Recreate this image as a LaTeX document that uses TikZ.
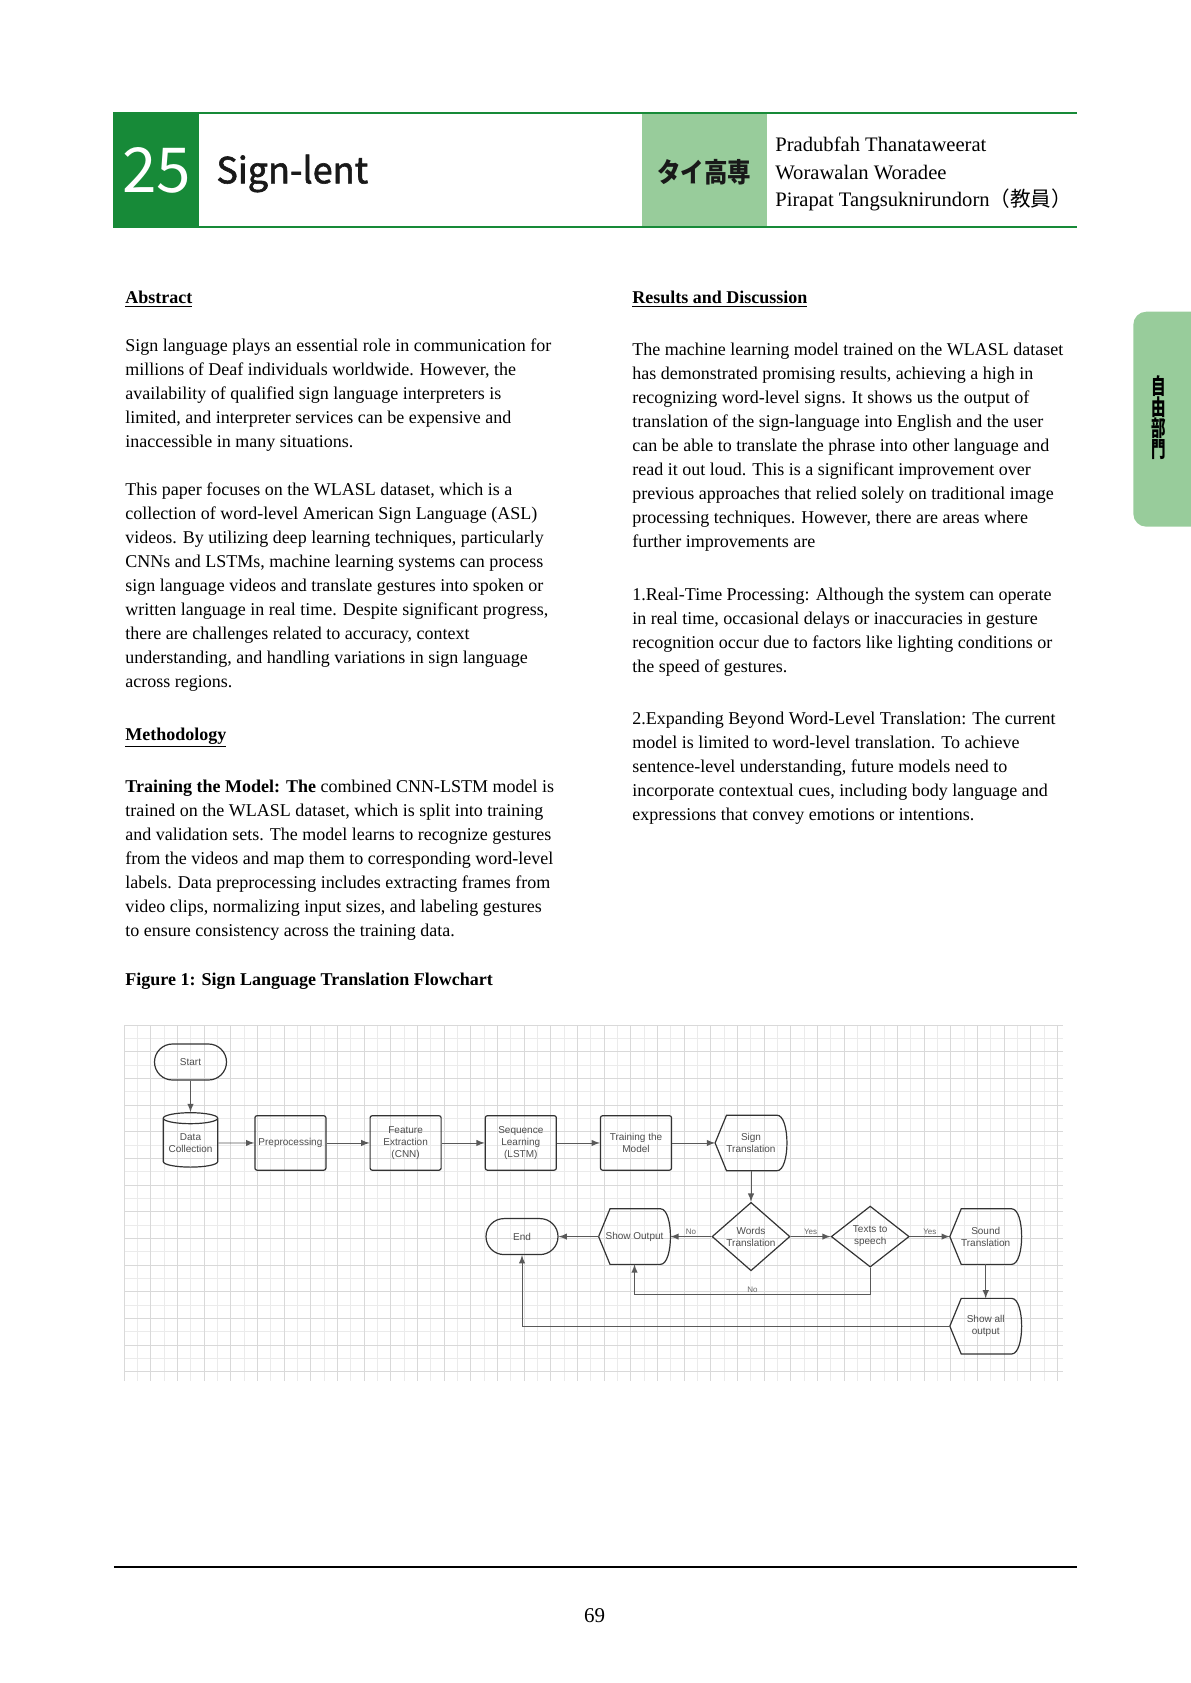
\documentclass[tikz,border=0pt]{standalone}
\usepackage{fontspec}
\setmainfont{Liberation Serif}
\newfontfamily\jpfont{Noto Sans CJK JP}
\newfontfamily\jpmedium[FakeBold=1.6]{Noto Sans CJK JP}
\newfontfamily\chartfont{Liberation Sans}
\usetikzlibrary{shapes.geometric, positioning, arrows}
\definecolor{kgreen}{HTML}{178A38}
\definecolor{lgreen}{HTML}{98CC9B}

\begin{document}
\begin{tikzpicture}[
  x=0.5pt, y=-0.5pt,
  node distance=15.5pt and 21.5pt,
  body/.style={anchor=base west, inner sep=0, font=\fontsize{9}{12}\selectfont},
  head/.style={anchor=base west, inner sep=0, font=\fontsize{9}{12}\selectfont\bfseries},
  box/.style={draw=black!80, line width=0.6pt, inner sep=0, align=center, text=black!70, font=\chartfont\fontsize{5}{6}\selectfont},
  term/.style={box, minimum width=36pt, minimum height=18pt, rounded corners=9pt},
  proc/.style={box, minimum width=35.5pt, minimum height=27.2pt, rounded corners=1pt},
  store/.style={box, cylinder, shape border rotate=90, aspect=0.25, minimum width=27.2pt, minimum height=27.2pt},
  disp/.style={box, draw=none, minimum width=35.3pt, minimum height=27.2pt},
  dec/.style={box, diamond, minimum width=39pt, minimum height=30.5pt},
  outline/.style={draw=black!80, line width=0.6pt},
  conn/.style={draw=black!65, line width=0.45pt, -latex},
  lab/.style={text=black!60, font=\chartfont\fontsize{4}{4.5}\selectfont, inner sep=1pt},
  gridfine/.style={draw=black!8, line width=0.4pt},
  gridmajor/.style={draw=black!15, line width=0.4pt}
]
\useasboundingbox (0,0) rectangle (1190,1683);

% header band
\fill[kgreen] (113.3,113.3) rectangle (199.3,226.7);
\fill[lgreen] (641.7,113.3) rectangle (766.7,226.7);
\draw[kgreen, line width=0.85pt] (113.3,113.3) -- (1076.5,113.3);
\draw[kgreen, line width=0.85pt] (113.3,226.7) -- (1076.5,226.7);
\node[anchor=base, inner sep=0, text=white, font=\jpfont\fontsize{31}{31}\selectfont] (num) at (156.7,192.3) {25};
\node[anchor=base west, inner sep=0, text=black!90, font=\jpmedium\fontsize{18}{18}\selectfont] (title) at (216,183.3) {Sign-lent};
\node[anchor=base, inner sep=0, text=black!90, font=\jpfont\bfseries\fontsize{13.5}{14}\selectfont] (school) at (704.2,182.5) {\scalebox{0.87}[1]{タイ高専}};
\foreach \a [count=\i] in {{Pradubfah Thanataweerat}, {Worawalan Woradee}, {Pirapat Tangsuknirundorn{\jpfont （教員）}}}
  \node[anchor=base west, inner sep=0, font=\fontsize{10.3}{12}\selectfont] (au\i) at (775,124+27.5*\i) {\a};

% side tab
\fill[lgreen, rounded corners=6.5pt] (1133.3,311.7) rectangle (1215,526.7);
\foreach \c [count=\i] in {自,由,部,門}
  \node[inner sep=0, font=\jpfont\bfseries\fontsize{11}{11}\selectfont] (tab\i) at (1158.7,364.4+21.25*\i) {\scalebox{0.66}[1]{\c}};

% left column
\node[head] (abs) at (125,303) {\underline{Abstract}};
\foreach \t [count=\i] in {
  {Sign language plays an essential role in communication for},
  {millions of Deaf individuals worldwide. However, the},
  {availability of qualified sign language interpreters is},
  {limited, and interpreter services can be expensive and},
  {inaccessible in many situations.}}
  \node[body] (pa\i) at (125,327+24*\i) {\t};
\foreach \t [count=\i] in {
  {This paper focuses on the WLASL dataset, which is a},
  {collection of word-level American Sign Language (ASL)},
  {videos. By utilizing deep learning techniques, particularly},
  {CNNs and LSTMs, machine learning systems can process},
  {sign language videos and translate gestures into spoken or},
  {written language in real time. Despite significant progress,},
  {there are challenges related to accuracy, context},
  {understanding, and handling variations in sign language},
  {across regions.}}
  \node[body] (pb\i) at (125,471+24*\i) {\t};
\node[head] (meth) at (125,740) {\underline{Methodology}};
\foreach \t [count=\i] in {
  {\textbf{Training the Model: The} combined CNN-LSTM model is},
  {trained on the WLASL dataset, which is split into training},
  {and validation sets. The model learns to recognize gestures},
  {from the videos and map them to corresponding word-level},
  {labels. Data preprocessing includes extracting frames from},
  {video clips, normalizing input sizes, and labeling gestures},
  {to ensure consistency across the training data.}}
  \node[body] (pc\i) at (125,768.5+24*\i) {\t};
\node[head] (cap) at (125,985) {Figure 1: Sign Language Translation Flowchart};

% right column
\node[head] (res) at (632,303) {\underline{Results and Discussion}};
\foreach \t [count=\i] in {
  {The machine learning model trained on the WLASL dataset},
  {has demonstrated promising results, achieving a high in},
  {recognizing word-level signs. It shows us the output of},
  {translation of the sign-language into English and the user},
  {can be able to translate the phrase into other language and},
  {read it out loud. This is a significant improvement over},
  {previous approaches that relied solely on traditional image},
  {processing techniques. However, there are areas where},
  {further improvements are}}
  \node[body] (pd\i) at (632,331+24*\i) {\t};
\foreach \t [count=\i] in {
  {1.Real-Time Processing: Although the system can operate},
  {in real time, occasional delays or inaccuracies in gesture},
  {recognition occur due to factors like lighting conditions or},
  {the speed of gestures.}}
  \node[body] (pe\i) at (632,576+24*\i) {\t};
\foreach \t [count=\i] in {
  {2.Expanding Beyond Word-Level Translation: The current},
  {model is limited to word-level translation. To achieve},
  {sentence-level understanding, future models need to},
  {incorporate contextual cues, including body language and},
  {expressions that convey emotions or intentions.}}
  \node[body] (pf\i) at (632,700+24*\i) {\t};

% grid behind the flowchart
\foreach \i in {0,...,70}
  \draw[gridfine] (124+13.333*\i,1025) -- (124+13.333*\i,1381);
\foreach \j in {0,...,26}
  \draw[gridfine] (124,1025+13.333*\j) -- (1062.5,1025+13.333*\j);
\foreach \i in {0,...,35}
  \draw[gridmajor] (124+26.667*\i,1025) -- (124+26.667*\i,1381);
\foreach \j in {0,...,13}
  \draw[gridmajor] (124,1025+26.667*\j) -- (1062.5,1025+26.667*\j);

% flowchart
\node[term] (start) at (190.5,1062) {Start};
\node[store, below=15.75pt of start] (dc) {Data\\Collection};
\node[proc, right=18pt of dc] (pre) {Preprocessing};
\node[proc, right=of pre] (feat) {Feature\\Extraction\\(CNN)};
\node[proc, right=of feat] (seq) {Sequence\\Learning\\(LSTM)};
\node[proc, right=of seq] (train) {Training the\\Model};
\node[disp, right=of train] (sign) {Sign\\Translation};
\node[dec, below=of sign] (words) {Words\\Translation};
\node[dec, right=20pt of words] (tts) {Texts to\\speech};
\node[disp, right=20pt of tts] (sound) {Sound\\Translation};
\node[disp, below=17pt of sound] (all) {Show all\\output};
\node[disp, left=20.5pt of words] (out) {Show Output};
\node[term, left=20pt of out] (stop) {End};

\foreach \n in {sign,sound,all,out}
  \draw[outline] ([xshift=5.7pt]\n.north west) -- ([xshift=-5pt]\n.north east)
    .. controls ([xshift=1.7pt]\n.north east) and ([xshift=1.7pt]\n.south east) .. ([xshift=-5pt]\n.south east)
    -- ([xshift=5.7pt]\n.south west) -- (\n.west) -- cycle;

\path (start) edge[conn] (dc)
(dc) edge[conn] (pre)
(pre) edge[conn] (feat)
(feat) edge[conn] (seq)
(seq) edge[conn] (train)
(train) edge[conn] (sign)
(sign) edge[conn] (words)
(words) edge[conn] node[lab, above] {No} (out)
(words) edge[conn] node[lab, above] {Yes} (tts)
(tts) edge[conn] node[lab, above] {Yes} (sound)
(out) edge[conn] (stop)
(sound) edge[conn] (all);

\draw[conn] (tts.south) -- ++(0,-13.5pt) -| (out.south) node[lab, pos=0.25, above] {No};
\draw[conn] (all.west) -| (stop.south);

% footer
\draw[line width=1.3pt] (113.8,1567) -- (1076.5,1567);
\node[anchor=base, inner sep=0, font=\fontsize{10.5}{12}\selectfont] (page) at (594.6,1622) {69};

\end{tikzpicture}
\end{document}
